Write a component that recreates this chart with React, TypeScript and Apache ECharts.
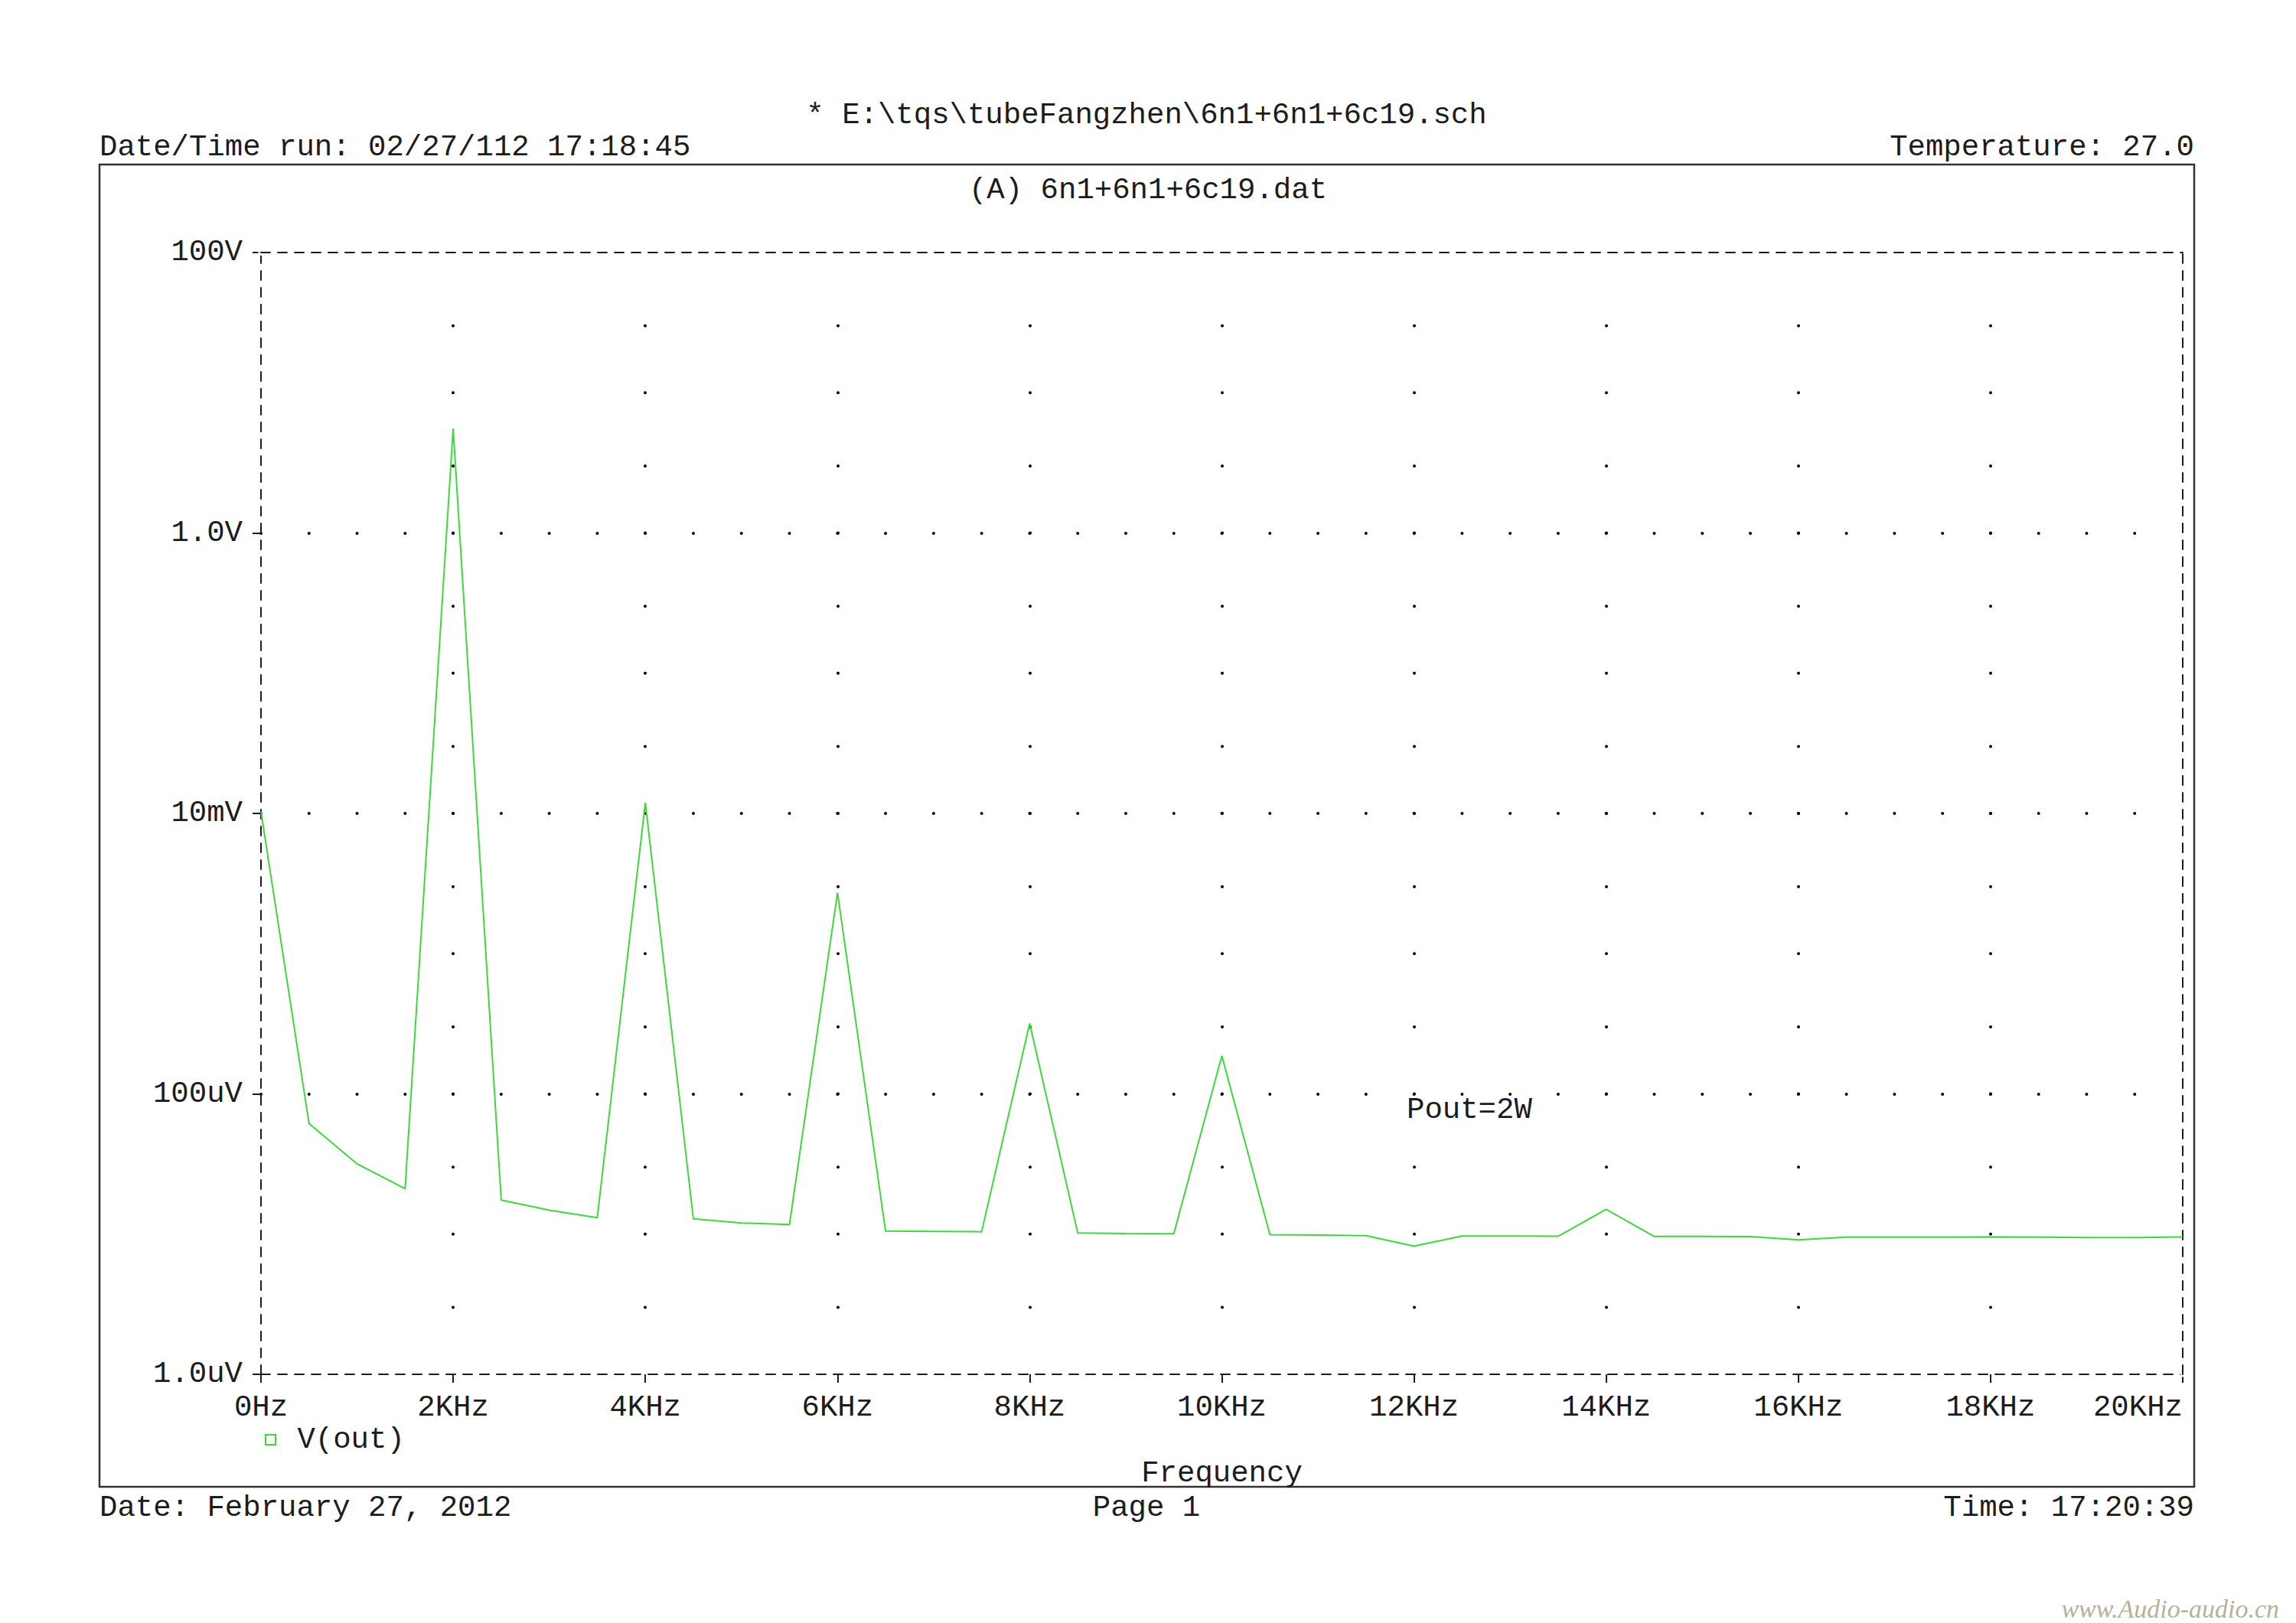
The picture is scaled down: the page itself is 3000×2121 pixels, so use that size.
import React, { useEffect, useRef } from "react";
import * as echarts from "echarts";

// ---- data ----
const FREQ_HZ = [
  0, 500, 1000, 1500, 2000, 2500, 3000, 3500, 4000, 4500,
  5000, 5500, 6000, 6500, 7000, 7500, 8000, 8500, 9000, 9500,
  10000, 10500, 11000, 11500, 12000, 12500, 13000, 13500, 14000, 14500,
  15000, 15500, 16000, 16500, 17000, 17500, 18000, 18500, 19000, 19500,
  20000,
];
const VOUT_V = [
  10.3e-3, 61.5e-6, 31.7e-6, 21.1e-6, 5.56, 17.5e-6, 14.8e-6, 13.1e-6, 11.9e-3, 12.85e-6,
  12.0e-6, 11.7e-6, 2.72e-3, 10.5e-6, 10.45e-6, 10.4e-6, 318e-6, 10.2e-6, 10.1e-6, 10.05e-6,
  187e-6, 9.9e-6, 9.85e-6, 9.75e-6, 8.2e-6, 9.7e-6, 9.68e-6, 9.65e-6, 15.0e-6, 9.62e-6,
  9.62e-6, 9.6e-6, 9.1e-6, 9.5e-6, 9.5e-6, 9.5e-6, 9.55e-6, 9.5e-6, 9.45e-6, 9.45e-6,
  9.55e-6,
];
const X_TICK_LABELS = ["0Hz", "2KHz", "4KHz", "6KHz", "8KHz", "10KHz", "12KHz", "14KHz", "16KHz", "18KHz", "20KHz"];
const X_MIN = 0;
const X_MAX = 20000;
const X_STEP = 2000;
const Y_TICK_LABELS = ["1.0uV", "100uV", "10mV", "1.0V", "100V"];
const Y_MIN = 1e-6;
const Y_MAX = 100;
const SERIES_NAME = "V(out)";

const HEADER_FILE = "* E:\\tqs\\tubeFangzhen\\6n1+6n1+6c19.sch";
const HEADER_RUN = "Date/Time run: 02/27/112 17:18:45";
const HEADER_TEMP = "Temperature: 27.0";
const PLOT_TITLE = "(A) 6n1+6n1+6c19.dat";
const FOOT_DATE = "Date: February 27, 2012";
const FOOT_PAGE = "Page 1";
const FOOT_TIME = "Time: 17:20:39";
const NOTE = "Pout=2W";
const WATERMARK = "www.Audio-audio.cn";

// ---- layout / style ----
const FONT = "'Liberation Mono', 'Courier New', monospace";
const FS = 39;
const INK = "#1c1c1c";
const GREEN = "#3cd83c";
const G_LEFT = 341;
const G_TOP = 330;
const G_W = 2511;
const G_H = 1466;

export default function App() {
  const ref = useRef<HTMLDivElement>(null);

  useEffect(() => {
    if (!ref.current) return;
    const chart = echarts.init(ref.current, undefined, { renderer: "svg" });

    const decades = Math.log10(Y_MAX / Y_MIN);
    const decPx = G_H / decades;
    const gapA = decPx * Math.log10(10 / 3) - 0.01;
    const gapB = decPx * Math.log10(3) - 0.01;
    const hGap = G_W / ((X_MAX - X_MIN) / 500) - 0.01;

    const txt = (text: string, x: number, y: number, align: string, extra: any = {}) => ({
      type: "text",
      x,
      y,
      silent: true,
      style: {
        text,
        fontFamily: FONT,
        fontSize: FS,
        fill: INK,
        align,
        verticalAlign: "middle",
        ...extra,
      },
    });

    const dashedAxisLine = { show: true, onZero: false, lineStyle: { color: INK, width: 2, type: [12, 10] } };
    const whiteAxisLine = { show: true, onZero: false, lineStyle: { color: "#ffffff", width: 7, type: "solid" } };

    const option: any = {
      animation: false,
      backgroundColor: "#ffffff",
      grid: { left: G_LEFT, top: G_TOP, width: G_W, height: G_H, containLabel: false },
      legend: {
        data: [SERIES_NAME],
        left: 346,
        top: 1862,
        padding: 0,
        icon: "rect",
        itemWidth: 13,
        itemHeight: 13,
        itemStyle: { color: "#ffffff", borderColor: GREEN, borderWidth: 2 },
        formatter: (n: string) => " " + n,
        textStyle: { fontFamily: FONT, fontSize: FS, color: INK },
      },
      xAxis: [
        {
          type: "value",
          min: X_MIN,
          max: X_MAX,
          interval: X_STEP,
          name: "Frequency",
          nameLocation: "middle",
          nameGap: 110,
          nameTextStyle: { fontFamily: FONT, fontSize: FS, color: INK },
          axisLine: dashedAxisLine,
          axisTick: { show: true, length: 11, lineStyle: { color: INK, width: 2 } },
          axisLabel: {
            margin: 24,
            fontFamily: FONT,
            fontSize: FS,
            color: INK,
            alignMaxLabel: "right",
            formatter: (v: number) => X_TICK_LABELS[Math.round((v - X_MIN) / X_STEP)] ?? "",
          },
          splitLine: {
            show: true,
            showMinLine: false,
            showMaxLine: false,
            lineStyle: { color: "#000", width: 4, type: [0.01, gapA, 0.01, gapB], cap: "round" },
          },
        },
        {
          type: "value",
          position: "top",
          min: X_MIN,
          max: X_MAX,
          interval: X_STEP,
          z: 3,
          axisLine: dashedAxisLine,
          axisTick: { show: false },
          axisLabel: { show: false },
          splitLine: { show: false },
        },
        {
          type: "value",
          position: "top",
          min: X_MIN,
          max: X_MAX,
          interval: X_STEP,
          z: 2,
          axisLine: whiteAxisLine,
          axisTick: { show: false },
          axisLabel: { show: false },
          splitLine: { show: false },
        },
      ],
      yAxis: [
        {
          type: "log",
          logBase: 100,
          min: Y_MIN,
          max: Y_MAX,
          interval: 1,
          axisLine: dashedAxisLine,
          axisTick: { show: true, length: 11, lineStyle: { color: INK, width: 2 } },
          minorTick: { show: false },
          axisLabel: {
            margin: 24,
            padding: [4, 0, 0, 0],
            fontFamily: FONT,
            fontSize: FS,
            color: INK,
            formatter: (v: number) => {
              const e = Math.round(Math.log10(v));
              return Y_TICK_LABELS[Math.round((e + 6) / 2)] ?? "";
            },
          },
          splitLine: {
            show: true,
            showMinLine: false,
            showMaxLine: false,
            lineStyle: { color: "#000", width: 4, type: [0.01, hGap], cap: "round" },
          },
        },
        {
          type: "log",
          logBase: 100,
          min: Y_MIN,
          max: Y_MAX,
          interval: 1,
          position: "right",
          z: 3,
          axisLine: dashedAxisLine,
          axisTick: { show: false },
          axisLabel: { show: false },
          splitLine: { show: false },
        },
        {
          type: "log",
          logBase: 100,
          min: Y_MIN,
          max: Y_MAX,
          interval: 1,
          position: "right",
          z: 2,
          axisLine: whiteAxisLine,
          axisTick: { show: false },
          axisLabel: { show: false },
          splitLine: { show: false },
        },
      ],
      series: [
        {
          name: SERIES_NAME,
          type: "line",
          xAxisIndex: 0,
          yAxisIndex: 0,
          symbol: "none",
          lineStyle: { color: GREEN, width: 2 },
          itemStyle: { color: GREEN },
          data: FREQ_HZ.map((f, i) => [f, VOUT_V[i]]),
          z: 5,
        },
      ],
      graphic: [
        {
          type: "rect",
          silent: true,
          z: -1,
          shape: { x: 130, y: 215, width: 2737, height: 1728 },
          style: { fill: "none", stroke: "#333333", lineWidth: 2.5 },
        },
        txt(HEADER_FILE, 1498, 151, "center"),
        txt(HEADER_RUN, 130, 193, "left"),
        txt(HEADER_TEMP, 2867, 193, "right"),
        txt(PLOT_TITLE, 1500, 249, "center"),
        txt(NOTE, 1838, 1451, "left"),
        txt(FOOT_DATE, 130, 1971, "left"),
        txt(FOOT_PAGE, 1498, 1971, "center"),
        txt(FOOT_TIME, 2867, 1971, "right"),
        txt(WATERMARK, 2978, 2102, "right", {
          fontFamily: "'Liberation Serif', 'DejaVu Serif', serif",
          fontStyle: "italic",
          fontSize: 34,
          fill: "#b7b09a",
        }),
      ],
    };

    chart.setOption(option);
    return () => chart.dispose();
  }, []);

  return (
    <div
      ref={ref}
      style={{ position: "fixed", left: 0, top: 0, width: 3000, height: 2121, background: "#fff" }}
    />
  );
}
